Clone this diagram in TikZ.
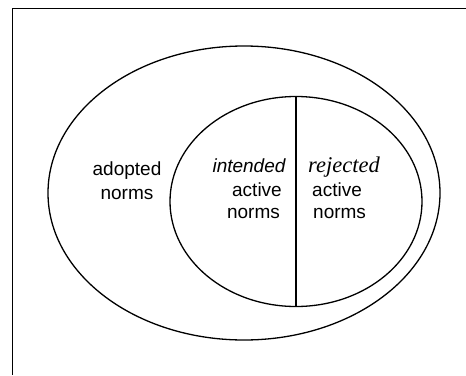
\documentclass[tikz,border=0pt]{standalone}
\usepackage{fontspec}
\setmainfont{Liberation Sans}
\newfontfamily\timesfont{Liberation Serif}
\usetikzlibrary{shapes.geometric}
\begin{document}
\begin{tikzpicture}[x=1pt,y=-1pt,
  outline/.style={line width=1.3pt,black},
  label/.style={inner sep=0pt,anchor=base,font=\fontsize{19}{23}\selectfont}]
\useasboundingbox (0,0) rectangle (466,375);
% open frame: top and left edges
\coordinate (ftr) at (466,8.5);
\coordinate (ftl) at (12.5,8.5);
\coordinate (fbl) at (12.5,375);
\draw[line width=1.2pt] (ftr) -- (ftl) -- (fbl);
% outer set and inner set
\node[outline,draw,ellipse,minimum width=392pt,minimum height=294pt,inner sep=0pt] (outer) at (244,193) {};
\node[outline,draw,ellipse,minimum width=252pt,minimum height=210pt,inner sep=0pt] (inner) at (296,201.5) {};
\draw[outline,line width=1.2pt] (inner.north) -- (inner.south);
% labels
\node[label] (ad1) at (127,175.5) {adopted};
\node[label] (ad2) at (127,199) {norms};
\node[label] (in1) at (249,172) {\itshape intended};
\node[label] (in2) at (257,196) {active};
\node[label] (in3) at (253.5,218.5) {norms};
\node[label,anchor=base west,font=\timesfont\fontsize{22.5}{23}\selectfont\itshape] (rj1) at (308,172) {rejected};
\node[label,anchor=base west] (rj2) at (312,196) {active};
\node[label,anchor=base west] (rj3) at (313,218.5) {norms};
\end{tikzpicture}
\end{document}
